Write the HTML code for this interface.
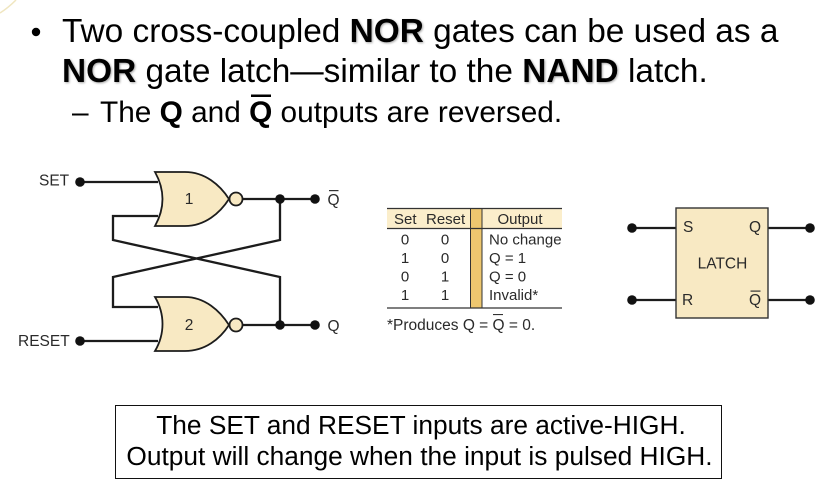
<!DOCTYPE html>
<html><head><meta charset="utf-8"><style>
html,body{margin:0;padding:0;background:#fff}
svg{display:block;font-family:"Liberation Sans",sans-serif}
.h{fill:#000;font-size:33.4px}
.s{fill:#000;font-size:29.8px}
.b{font-weight:bold;filter:drop-shadow(1px 1px 1px rgba(0,0,0,.35))}
.d{fill:#2a2a2a;font-size:15.5px}
.t{fill:#2a2a2a;font-size:15px}
.w{fill:none;stroke:#1c1c1c;stroke-width:2.3}
.g{fill:#f8e9c3;stroke:#1c1c1c;stroke-width:1.8}
.soft{filter:blur(.35px)}
</style></head><body>
<svg width="828" height="497" viewBox="0 0 828 497" xmlns="http://www.w3.org/2000/svg">
<path d="M0 13 Q8 8 16 0" fill="none" stroke="#f0e6c0" stroke-width="1.5"/>
<circle cx="36" cy="32" r="4.200" fill="#000"/>
<text class="h" x="62" y="42">Two cross-coupled <tspan class="b">NOR</tspan> gates can be used as a</text>
<text class="h" x="62" y="82"><tspan class="b">NOR</tspan> gate latch—similar to the <tspan class="b">NAND</tspan> latch.</text>
<text class="s" x="72" y="122">–</text>
<text class="s" x="100" y="122">The <tspan font-weight="bold">Q</tspan> and <tspan font-weight="bold">Q</tspan> outputs are reversed.</text>
<rect x="251" y="94.500" width="20" height="2.500" fill="#000"/>

<g class="soft">
<!-- NOR latch -->
<path class="w" d="M80 182H158M80 341H158M229 199H315M229 325H315"/>
<path class="w" d="M158 216H113V240L280 277V325M280 199V240L113 277V307H158"/>
<path class="g" d="M155 172H185C205 172 220 185 229 199C220 213 205 226 185 226H155C165 208 165 190 155 172Z"/>
<path class="g" d="M155 297H185C205 297 220 311 229 325C220 339 205 351 185 351H155C165 334 165 314 155 297Z"/>
<circle class="g" cx="236" cy="199" r="6.500"/>
<circle class="g" cx="236" cy="325" r="6.500"/>
<g fill="#111">
<circle cx="80" cy="182" r="4.800"/><circle cx="80" cy="341" r="4.800"/>
<circle cx="280" cy="199" r="4.800"/><circle cx="280" cy="325" r="4.800"/>
<circle cx="315" cy="199" r="4.800"/><circle cx="315" cy="325" r="4.800"/>
</g>
<text class="d" x="39" y="185.500">SET</text>
<text class="d" x="18" y="346">RESET</text>
<text class="d" x="189" y="204" text-anchor="middle">1</text>
<text class="d" x="189" y="330" text-anchor="middle">2</text>
<text class="d" x="333.500" y="205" text-anchor="middle">Q</text>
<rect x="329" y="190" width="9.500" height="1.200" fill="#333"/>
<text class="d" x="333.500" y="331" text-anchor="middle">Q</text>

<!-- table -->
<rect x="387" y="208" width="175" height="20" fill="#fbeecb"/>
<rect x="470" y="208" width="12" height="100" fill="#eec76f"/>
<path d="M387 208.500H562M387 228.500H562M387 308H562" stroke="#333" stroke-width="1.200" fill="none"/>
<path d="M470.500 208V308M482 208V308" stroke="#333" stroke-width="1" fill="none"/>
<g class="t">
<text x="394" y="224">Set</text><text x="426" y="224">Reset</text><text x="497.500" y="224">Output</text>
<text x="405" y="244.500" text-anchor="middle">0</text><text x="445" y="244.500" text-anchor="middle">0</text><text x="489" y="244.500">No change</text>
<text x="405" y="263" text-anchor="middle">1</text><text x="445" y="263" text-anchor="middle">0</text><text x="489" y="263">Q = 1</text>
<text x="405" y="281.500" text-anchor="middle">0</text><text x="445" y="281.500" text-anchor="middle">1</text><text x="489" y="281.500">Q = 0</text>
<text x="405" y="300" text-anchor="middle">1</text><text x="445" y="300" text-anchor="middle">1</text><text x="489" y="300">Invalid*</text>
<text x="387" y="330" style="font-size:15.500px">*Produces Q = Q = 0.</text>
</g>
<rect x="493" y="314" width="10" height="1.100" fill="#333"/>

<!-- latch symbol -->
<path class="w" d="M632 228H676M632 300H676M768 228H810M768 300H810"/>
<rect x="676" y="208" width="92" height="110" fill="#f8e9c3" stroke="#333" stroke-width="1.400"/>
<g fill="#111">
<circle cx="632" cy="228" r="4.800"/><circle cx="632" cy="300" r="4.800"/>
<circle cx="810" cy="228" r="4.800"/><circle cx="810" cy="300" r="4.800"/>
</g>
<g class="d">
<text x="683" y="232">S</text><text x="682" y="305">R</text>
<text x="755" y="232" text-anchor="middle">Q</text><text x="755" y="305" text-anchor="middle">Q</text>
<text x="722.500" y="268.500" text-anchor="middle">LATCH</text>
</g>
<rect x="750.500" y="290.500" width="10" height="1.200" fill="#333"/>
</g>

<!-- note -->
<rect x="115.500" y="405.500" width="606" height="73" fill="#fff" stroke="#111" stroke-width="1"/>
<text x="421" y="434" text-anchor="middle" font-size="26.300" fill="#000">The SET and RESET inputs are active-HIGH.</text>
<text x="419.500" y="465" text-anchor="middle" font-size="26.300" fill="#000">Output will change when the input is pulsed HIGH.</text>
</svg>
</body></html>
